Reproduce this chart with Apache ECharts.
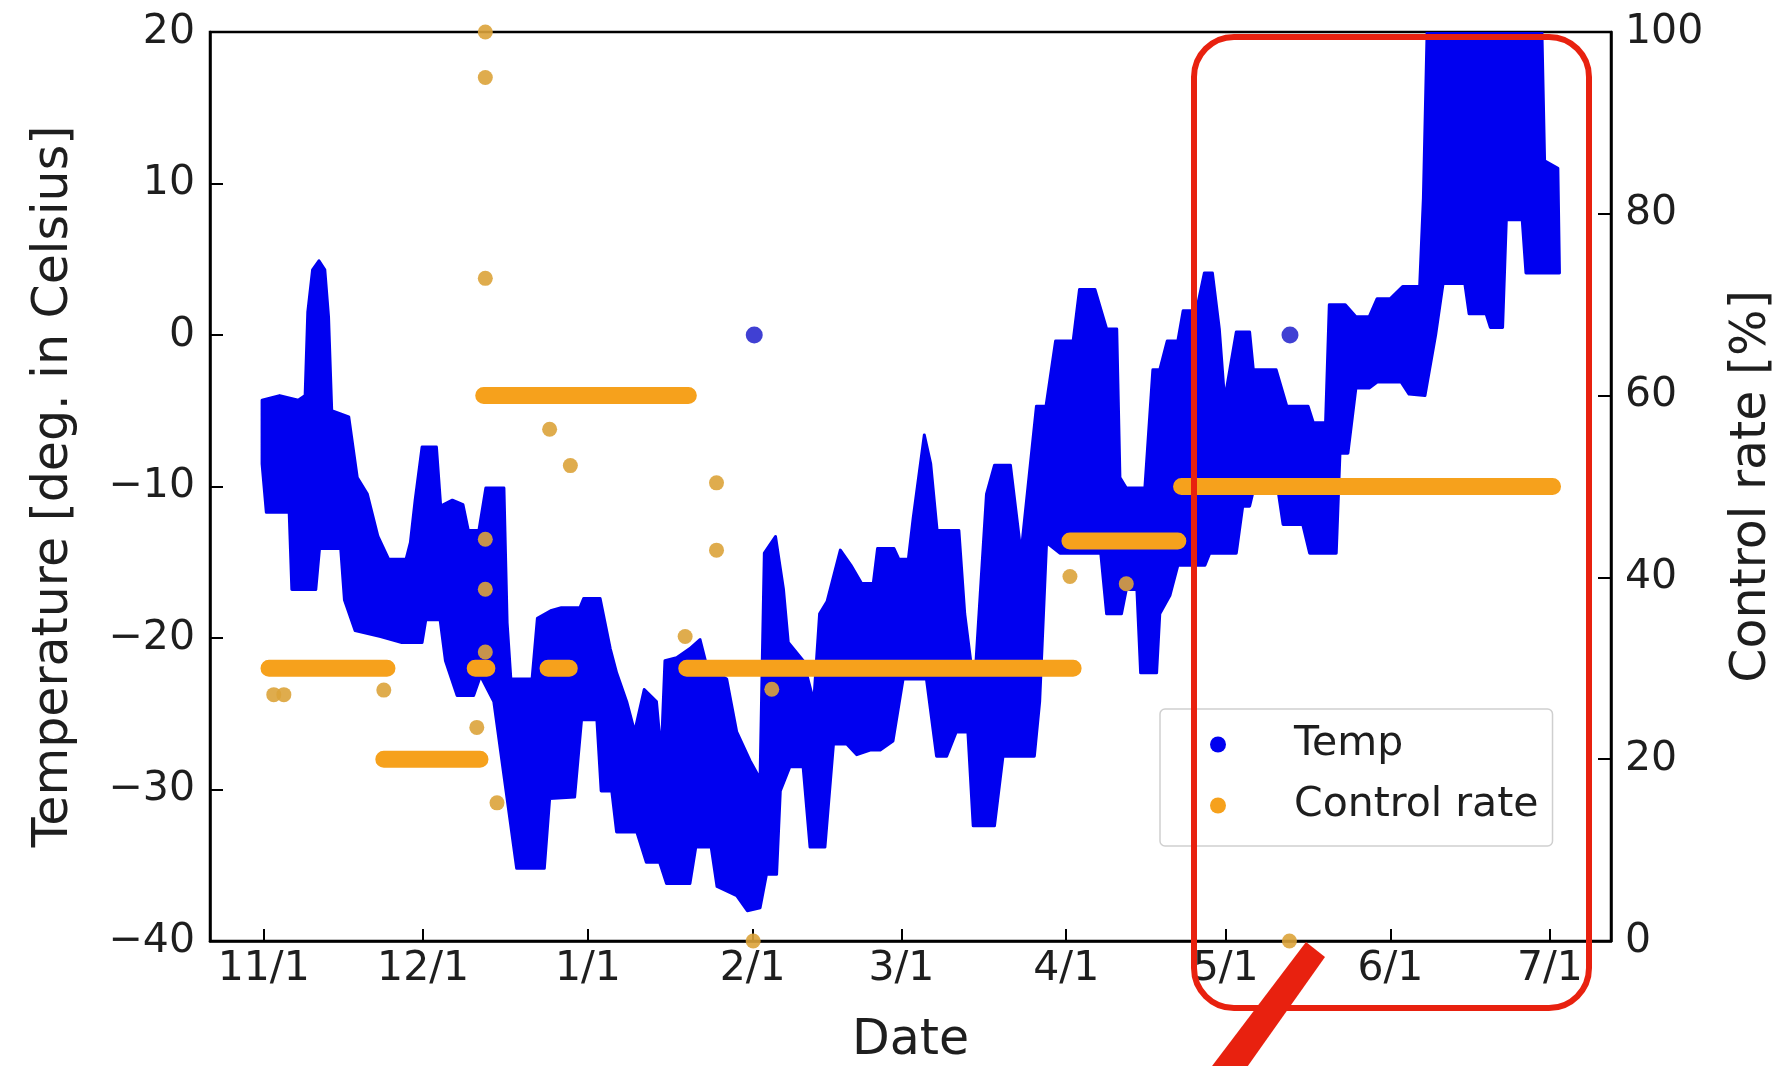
<!DOCTYPE html>
<html>
<head>
<meta charset="utf-8">
<title>Temp / Control rate</title>
<script src="https://cdn.jsdelivr.net/npm/echarts@6/dist/echarts.min.js"></script>
<style>
  html, body { margin: 0; padding: 0; background: #fff; }
  #main { width: 1772px; height: 1066px; }
</style>
</head>
<body>
<div id="main"></div>
<script>
// x values are days counted from 11/1
var monthStartDays = [0, 30, 61, 92, 120, 151, 181, 212, 242];
var monthLabels = ['11/1', '12/1', '1/1', '2/1', '3/1', '4/1', '5/1', '6/1', '7/1'];

// outer edge of the dense blue temperature cloud
var tempUpperEdge = [
  [-0.3, -4.3], [3, -4.0], [6.5, -4.3], [7.8, -4.0], [8.3, 1.5], [9.2, 4.3], [10.4, 4.9], [11.5, 4.3],
  [12.2, 1.2], [12.8, -5.0], [16, -5.4], [17.6, -9.4], [19.5, -10.5], [21.5, -13.3], [23.5, -14.8],
  [26.8, -14.8], [27.6, -13.7], [28.5, -10.9], [29.8, -7.4], [32.5, -7.4], [33.3, -11.3], [35.5, -10.9],
  [37.5, -11.2], [38.5, -12.9], [40.5, -12.9], [41.8, -10.1], [45.2, -10.1], [45.8, -19.0], [46.5, -22.7],
  [50.5, -22.7], [51.5, -18.7], [54, -18.2], [56, -18.0], [59.5, -18.0], [60.2, -17.4], [63.3, -17.4],
  [65.2, -20.7], [66.4, -22.3], [68.3, -24.2], [69.8, -26.2], [71.6, -23.4], [73.9, -24.2], [74.8, -27.7],
  [75.5, -21.5], [77.7, -21.3], [80.2, -20.7], [82.1, -20.1], [83.4, -21.9], [87.1, -22.7], [89.0, -26.2],
  [91.5, -28.1], [93.4, -29.3], [94.2, -14.4], [96.3, -13.3], [97.8, -16.8], [98.7, -20.3], [101.5, -21.5],
  [103.5, -24.2], [104.6, -18.4], [106, -17.6], [108.5, -14.2], [110.5, -15.2], [112.5, -16.4],
  [114.7, -16.4], [115.5, -14.1], [118.6, -14.1], [119.5, -14.8], [121.3, -14.8], [122.2, -12.1],
  [124.3, -6.6], [125.5, -8.5], [126.7, -12.9], [130.8, -12.9], [131.9, -18.4], [133.7, -23.4],
  [136, -10.5], [137.5, -8.6], [140.5, -8.6], [142.5, -14.4], [145.4, -4.7], [147.2, -4.7], [149, -0.4],
  [152.3, -0.4], [153.5, 3.0], [156.4, 3.0], [158.6, 0.4], [160.5, 0.4], [161.1, -9.4], [162.3, -10.1],
  [165.8, -10.1], [167.3, -2.3], [168.6, -2.3], [170, -0.4], [172, -0.4], [173, 1.6], [175.5, 1.6],
  [177, 4.1], [178.5, 4.1], [179.8, 0.4], [180.8, -4.3], [183, 0.2], [185.5, 0.2], [186.2, -2.3],
  [190.5, -2.3], [192.5, -4.7], [196.5, -4.7], [197.5, -5.8], [199.8, -5.8], [200.5, 2.0], [203.5, 2.0],
  [205.5, 1.2], [208, 1.2], [209.5, 2.4], [212, 2.4], [214.3, 3.2], [217.5, 3.2], [218.2, 9.0],
  [218.9, 20], [240.5, 20], [241, 11.5], [243.5, 11.0], [243.8, 4.1]
];
var tempLowerEdge = [
  [-0.3, -8.5], [0.5, -11.7], [4.8, -11.7], [5.3, -16.8], [9.8, -16.8], [10.5, -14.1], [14.5, -14.1],
  [15.2, -17.5], [17.2, -19.5], [22, -19.9], [26, -20.3], [29.8, -20.3], [30.5, -18.8], [33.2, -18.8],
  [34.2, -21.5], [36.4, -23.8], [39.5, -23.8], [40.8, -22.5], [43.3, -24.2], [47.6, -35.2], [52.8, -35.2],
  [53.8, -30.6], [58.5, -30.5], [59.8, -25.4], [62.7, -25.4], [63.5, -30.1], [65.5, -30.1], [66.4, -32.8],
  [70.2, -32.8], [72, -34.8], [74.5, -34.8], [75.8, -36.2], [80.2, -36.2], [81.3, -33.8], [84.2, -33.8],
  [85.3, -36.4], [89, -37.0], [91, -38.0], [93.4, -37.8], [94.6, -35.6], [96.5, -35.6], [97.2, -30.1],
  [99, -28.5], [101.5, -28.5], [102.8, -33.8], [105.6, -33.8], [107.2, -27.0], [109.7, -27.0],
  [111.6, -27.7], [114.1, -27.4], [116, -27.4], [118.4, -26.8], [120.3, -22.7], [124.7, -22.7],
  [126.6, -27.8], [128.5, -27.8], [130.3, -26.2], [132.5, -26.2], [133.5, -32.4], [137.5, -32.4],
  [139.1, -27.8], [145, -27.8], [146, -24.2], [147.3, -13.7], [149.8, -14.4], [157.5, -14.4],
  [158.6, -18.4], [161.4, -18.4], [162.3, -16.8], [164.3, -16.8], [165, -22.3], [168, -22.3],
  [168.6, -18.4], [170.5, -17.2], [172, -15.2], [177.1, -15.2], [178, -14.4], [183, -14.4],
  [184.2, -11.3], [185.5, -11.3], [186.8, -9.4], [190.5, -9.4], [191.8, -12.5], [195.5, -12.5],
  [196.8, -14.4], [201.8, -14.4], [202.5, -7.8], [204, -7.8], [205.5, -3.5], [208, -3.5], [209.5, -3.1],
  [214, -3.1], [215.5, -3.9], [218.5, -4.0], [220.5, 0], [221.9, 3.4], [226, 3.4], [226.8, 1.4],
  [230, 1.4], [230.8, 0.5], [233.1, 0.5], [233.8, 7.6], [236.8, 7.6], [237.5, 4.1], [243.8, 4.1]
];
// lone temperature points
var tempOutliers = [[92.3, 0], [193.1, 0]];

// control rate plateaus: [first day, last day, rate %]
var rateSegments = [
  [1.0, 23.2, 30], [22.6, 40.7, 20], [39.8, 42.0, 30], [41.4, 79.9, 60], [53.5, 57.5, 30],
  [79.6, 152.3, 30], [151.7, 172.0, 44], [172.7, 242.5, 50]
];
// lone control rate points
var rateOutliers = [
  [1.9, 27.1], [3.8, 27.1], [22.6, 27.6], [40.1, 23.5], [41.7, 100], [41.7, 95], [41.7, 72.9],
  [41.7, 44.2], [41.7, 38.7], [41.7, 31.8], [43.9, 15.2], [53.8, 56.3], [57.7, 52.3], [79.3, 33.5],
  [85.2, 50.4], [85.2, 43.0], [92.1, 0], [95.6, 27.7], [151.7, 40.1], [162.3, 39.3], [193.0, 0]
];

var BLUE = '#0000f0';
var ORANGE = '#f6a11c';
var TXT = '#1e1e1e';
var FONT = 'DejaVu Sans';

var rateLine = [];
rateSegments.forEach(function (s) {
  rateLine.push([s[0], s[2]], [s[1], s[2]], [s[1], '-']);
});

function minus(v) { return v < 0 ? '\u2212' + (-v) : String(v); }

var chart = echarts.init(document.getElementById('main'));
chart.setOption({
  animation: false,
  backgroundColor: '#fff',
  textStyle: { fontFamily: FONT, color: TXT },
  grid: {
    left: 210, right: 161, top: 32, bottom: 125,
    outerBoundsMode: 'none', containLabel: false,
    show: true, borderColor: '#000', borderWidth: 2.5, backgroundColor: 'transparent'
  },
  legend: {
    data: ['Temp', 'Control rate'],
    orient: 'vertical',
    left: 1160, top: 709,
    icon: 'circle',
    itemWidth: 30, itemHeight: 16, itemGap: 20,
    padding: [15, 14, 20, 50],
    backgroundColor: 'rgba(255,255,255,0.85)',
    borderColor: '#cfcfcf', borderWidth: 1.5, borderRadius: 5,
    textStyle: { fontFamily: FONT, fontSize: 41, color: TXT, padding: [0, 0, 0, 56] },
    selectedMode: false
  },
  xAxis: {
    type: 'value',
    min: -10.1, max: 253.5,
    name: 'Date', nameLocation: 'middle', nameGap: 76,
    nameTextStyle: { fontFamily: FONT, fontSize: 49, color: TXT },
    axisLine: { show: true, onZero: false, lineStyle: { color: '#000', width: 2.5 } },
    axisTick: { show: true, inside: true, length: 12, customValues: monthStartDays,
      lineStyle: { color: '#000', width: 2 } },
    axisLabel: { customValues: monthStartDays, margin: 8, fontSize: 41, color: TXT, fontFamily: FONT,
      formatter: function (v) { return monthLabels[monthStartDays.indexOf(v)]; } },
    splitLine: { show: false }
  },
  yAxis: [
    {
      type: 'value', min: -40, max: 20, interval: 10, position: 'left',
      name: 'Temperature [deg. in Celsius]', nameLocation: 'middle', nameGap: 131, nameRotate: 90,
      nameTextStyle: { fontFamily: FONT, fontSize: 49, color: TXT },
      axisLine: { show: true, onZero: false, lineStyle: { color: '#000', width: 2.5 } },
      axisTick: { show: true, inside: true, length: 13, lineStyle: { color: '#000', width: 2 } },
      axisLabel: { margin: 15, fontSize: 41, color: TXT, fontFamily: FONT, formatter: minus },
      splitLine: { show: false }
    },
    {
      type: 'value', min: 0, max: 100, interval: 20, position: 'right',
      name: 'Control rate [%]', nameLocation: 'middle', nameGap: 117, nameRotate: 90,
      nameTextStyle: { fontFamily: FONT, fontSize: 49, color: TXT },
      axisLine: { show: true, onZero: false, lineStyle: { color: '#000', width: 2.5 } },
      axisTick: { show: true, inside: true, length: 13, lineStyle: { color: '#000', width: 2 } },
      axisLabel: { margin: 14, fontSize: 41, color: TXT, fontFamily: FONT },
      splitLine: { show: false }
    }
  ],
  series: [
    {
      name: 'Temp',
      type: 'custom',
      xAxisIndex: 0, yAxisIndex: 0,
      clip: true,
      itemStyle: { color: BLUE },
      data: [tempUpperEdge[0]],
      renderItem: function (params, api) {
        var top = tempUpperEdge.map(function (p) { return api.coord(p); });
        var bottom = tempLowerEdge.slice().reverse().map(function (p) { return api.coord(p); });
        return {
          type: 'polygon',
          shape: { points: top.concat(bottom) },
          style: { fill: BLUE, stroke: BLUE, lineWidth: 3, lineJoin: 'round' }
        };
      },
      z: 2
    },
    {
      name: 'Temp',
      type: 'scatter',
      xAxisIndex: 0, yAxisIndex: 0,
      symbolSize: 17,
      itemStyle: { color: '#1010c8' },
      data: tempOutliers,
      z: 2
    },
    {
      name: 'Control rate',
      type: 'line',
      xAxisIndex: 0, yAxisIndex: 1,
      showSymbol: false,
      connectNulls: false,
      itemStyle: { color: ORANGE },
      lineStyle: { color: ORANGE, width: 17, cap: 'round' },
      data: rateLine,
      z: 3
    },
    {
      name: 'Control rate',
      type: 'scatter',
      xAxisIndex: 0, yAxisIndex: 1,
      symbolSize: 15,
      itemStyle: { color: '#dca33a', opacity: 0.9 },
      data: rateOutliers,
      z: 3
    }
  ],
  graphic: [
    {
      type: 'rect', z: 100,
      shape: { x: 1194, y: 37, width: 395, height: 971, r: 40 },
      style: { fill: 'none', stroke: '#e8210f', lineWidth: 6 }
    },
    {
      type: 'polygon', z: 100,
      shape: { points: [[1306, 942], [1325, 957], [1245, 1070], [1209, 1070]] },
      style: { fill: '#e8210f' }
    }
  ]
});
</script>
</body>
</html>
